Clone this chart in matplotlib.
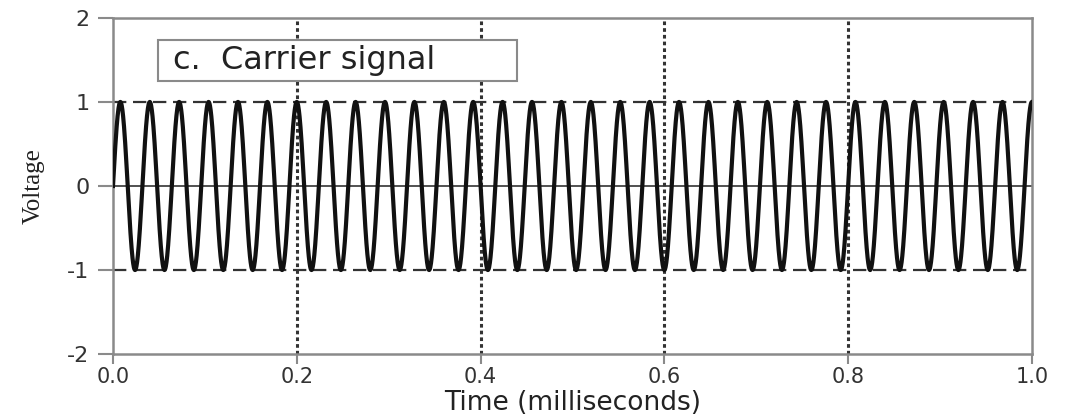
import matplotlib.pyplot as plt
import numpy as np
from matplotlib.patches import Rectangle

# carrier parameters
carrier_freq = 31.25      # cycles per millisecond
carrier_amp = 1.0         # volts
t_start, t_end = 0.0, 1.0

x_ticks = [0.0, 0.2, 0.4, 0.6, 0.8, 1.0]
x_tick_labels = ["0.0", "0.2", "0.4", "0.6", "0.8", "1.0"]
y_ticks = [-2, -1, 0, 1, 2]
y_tick_labels = ["-2", "-1", "0", "1", "2"]
v_lines = [0.2, 0.4, 0.6, 0.8]
h_dashed = [-1, 1]
label_text = "c.  Carrier signal"

plt.rcParams['font.family'] = ['DejaVu Sans']

fig = plt.figure(figsize=(10.66, 4.17), dpi=100)
ax = fig.add_axes([0.106, 0.151, 0.862, 0.806])

t = np.linspace(t_start, t_end, 4000)
v = carrier_amp * np.sin(2 * np.pi * carrier_freq * t)

gray = '#8a8a8a'
for xv in v_lines:
    ax.axvline(xv, color='#333333', lw=2.2, ls=(0, (1.2, 1.0)), zorder=1)
for yv in h_dashed:
    ax.axhline(yv, color='#333333', lw=1.6, ls=(0, (6, 3)), zorder=1)
ax.axhline(0, color='#333333', lw=1.2, zorder=1)

ax.plot(t, v, color='#111111', lw=3.0, zorder=3)

# label box
ax.add_patch(Rectangle((0.049, 1.25), 0.391, 0.49, facecolor='white',
                       edgecolor=gray, lw=1.5, zorder=4))
ax.text(0.065, 1.49, label_text, fontsize=23, color='#222222',
        va='center', ha='left', zorder=5)

ax.set_xlim(0, 1)
ax.set_ylim(-2, 2)
ax.set_xticks(x_ticks)
ax.set_xticklabels(x_tick_labels, fontsize=15, color='#333333')
ax.set_yticks(y_ticks)
ax.set_yticklabels(y_tick_labels, fontsize=16, color='#333333')
ax.tick_params(axis='x', direction='out', length=7, width=1.5, color=gray, pad=2)
ax.tick_params(axis='y', direction='out', length=11, width=1.5, color=gray, pad=6)

for s in ax.spines.values():
    s.set_color(gray)
    s.set_linewidth(1.8)

ax.set_xlabel("Time (milliseconds)", fontsize=19, color='#222222', va='center')
ax.xaxis.set_label_coords(0.5, -0.145)
ax.set_ylabel("Voltage", fontsize=18, color='#222222',
              family=['Liberation Serif', 'DejaVu Serif'], va='center')
ax.yaxis.set_label_coords(-0.086, 0.5)

fig.savefig("out.png", dpi=100)
